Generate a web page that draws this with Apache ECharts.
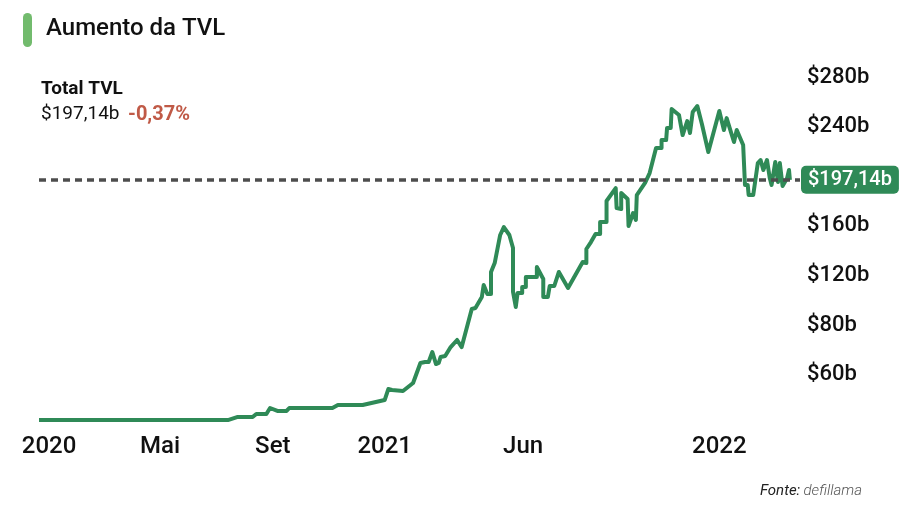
<!DOCTYPE html>
<html>
<head>
<meta charset="utf-8">
<script src="https://cdn.jsdelivr.net/npm/echarts@6/dist/echarts.min.js"></script>
<style>
  html, body { margin: 0; padding: 0; background: #ffffff; }
  #chart { width: 900px; height: 527px; }
</style>
</head>
<body>
<div id="chart"></div>
<script>
// days since 2020-01-01 for each vertex of the TVL line
const dayOffsets = [-11,195,205,222,226,237,241,249,259,262,309,315,342,366,370,374,386,397,405,410,414,418,422,425,427,432,438,445,450,461,465,472,474,478,482,482,486,492,496,502,506,506,509,511,516,516,520,520,532,532,539,539,544,546,551,556,566,582,586,586,591,596,601,601,608,608,618,619,624,624,631,632,637,640,641,650,655,662,668,668,673,674,678,679,687,691,696,699,702,707,712,719,731,736,739,747,750,757,759,759,762,763,768,773,776,779,783,786,788,792,795,797,800,805,807,808];
// total value locked, billions of USD
const tvlValues = [3.6,3.6,6.0,6.0,8.5,8.5,13.3,10.9,10.9,13.3,13.3,15.7,15.7,19.7,28.6,27.8,27.0,33.4,49.6,50.4,50.4,58.4,48.7,49.6,54.4,55.2,62.4,68.1,62.4,93.1,93.9,102.7,112.4,105.1,105.1,122.9,130.1,152.7,159.1,152.7,142.2,106.8,94.7,106.0,106.0,110.8,110.8,118.8,118.8,126.9,117.2,102.7,102.7,111.6,111.6,122.9,110.0,130.9,130.1,141.4,147.0,153.5,153.5,163.2,163.2,180.1,190.5,174.4,173.6,186.5,181.7,159.9,170.4,164.8,184.9,194.6,202.6,222.8,222.8,229.2,229.2,238.9,238.9,254.2,249.4,233.2,244.5,234.9,251.8,256.6,242.1,219.6,252.6,237.3,246.9,227.6,237.3,225.2,225.2,193.0,193.0,184.9,184.9,210.7,213.1,205.1,213.1,198.6,193.0,211.5,195.4,210.7,192.2,198.6,205.1,197.14];
// x tick labels (days since 2020-01-01)
const xTickDays = [0, 121, 244, 366, 517, 731];
const xTickLabels = ['2020', 'Mai', 'Set', '2021', 'Jun', '2022'];
// y tick labels for 0,40,...,280
const yTickValues = [0, 40, 80, 120, 160, 200, 240, 280];
const yTickLabels = ['', '$60b', '$80b', '$120b', '$160b', '', '$240b', '$280b'];
const currentValue = 197.14;
const currentLabel = '$197,14b';
const changeLabel = '-0,37%';

const FONT = 'Roboto, "Noto Sans", sans-serif';
const chart = echarts.init(document.getElementById('chart'), null, { renderer: 'canvas' });
const seriesData = dayOffsets.map((d, i) => [d, tvlValues[i]]);

chart.setOption({
  animation: false,
  backgroundColor: '#ffffff',
  textStyle: { fontFamily: FONT },
  grid: { left: 39, right: 100, top: 77, bottom: 102.5, containLabel: false },
  xAxis: {
    type: 'value',
    min: -11,
    max: 819,
    axisLine: { show: false },
    axisTick: { show: false },
    splitLine: { show: false },
    axisLabel: {
      customValues: xTickDays,
      formatter: function (v) {
        const i = xTickDays.indexOf(v);
        return i >= 0 ? xTickLabels[i] : '';
      },
      margin: 10,
      fontSize: 24,
      fontWeight: 500,
      color: '#111111',
      fontFamily: FONT
    }
  },
  yAxis: {
    type: 'value',
    position: 'right',
    min: 0,
    max: 280,
    interval: 40,
    axisLine: { show: false },
    axisTick: { show: false },
    splitLine: { show: false },
    axisLabel: {
      formatter: function (v) {
        const i = yTickValues.indexOf(v);
        return i >= 0 ? yTickLabels[i] : '';
      },
      margin: 7,
      align: 'left',
      fontSize: 22,
      fontWeight: 500,
      color: '#111111',
      fontFamily: FONT
    }
  },
  series: [{
    type: 'line',
    data: seriesData,
    showSymbol: false,
    symbol: 'none',
    lineStyle: { color: '#2f8a57', width: 4, join: 'round' },
    markLine: {
      silent: true,
      symbol: ['none', 'none'],
      lineStyle: { color: '#4d4d4d', width: 3.5, type: [7, 5] },
      label: {
        show: true,
        position: 'end',
        distance: 1,
        formatter: currentLabel,
        color: '#ffffff',
        fontSize: 20,
        fontWeight: 500,
        fontFamily: FONT,
        backgroundColor: '#2f8a57',
        borderRadius: 5,
        padding: [3, 7, 3, 7],
        lineHeight: 22
      },
      data: [{ yAxis: currentValue }]
    }
  }],
  graphic: [
    { type: 'rect', left: 23, top: 13, shape: { width: 9, height: 34, r: 4.5 }, style: { fill: '#72bb6d' } },
    { type: 'text', left: 46, top: 17, style: { text: 'Aumento da TVL', font: '500 24px ' + FONT, fill: '#111111' } },
    { type: 'text', left: 41, top: 80, style: { text: 'Total TVL', font: 'bold 19px ' + FONT, fill: '#111111' } },
    { type: 'text', left: 41, top: 105, style: { text: currentLabel, font: '19px ' + FONT, fill: '#111111' } },
    { type: 'text', left: 128, top: 105, style: { text: changeLabel, font: 'bold 20px ' + FONT, fill: '#c05a47' } },
    { type: 'text', right: 38, top: 484, style: {
        text: '{a|Fonte:} {b|defillama}',
        rich: {
          a: { fontSize: 15, fontStyle: 'italic', fill: '#222222', fontFamily: FONT },
          b: { fontSize: 15, fontStyle: 'italic', fontWeight: 300, fill: '#555555', fontFamily: FONT }
        }
    } }
  ]
});
</script>
</body>
</html>
